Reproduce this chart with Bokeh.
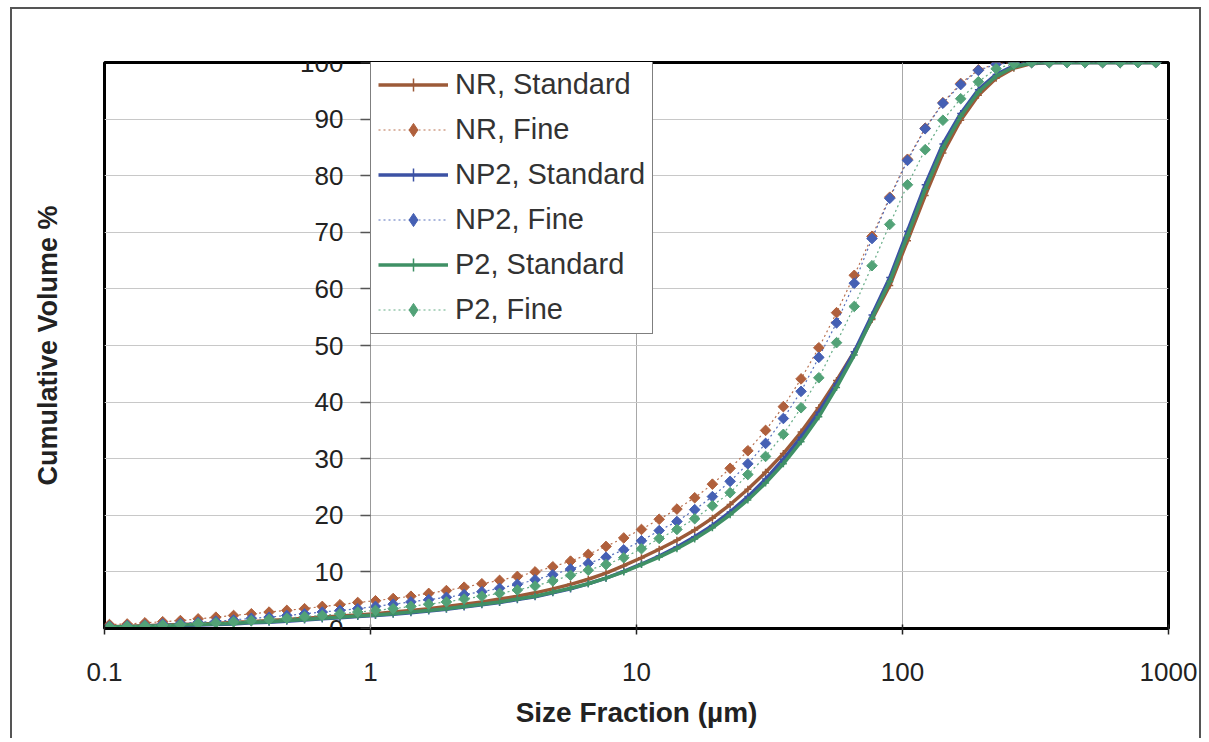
import numpy as np
from bokeh.plotting import figure
from bokeh.models import (Range1d, FixedTicker, LinearAxis, CustomJSTickFormatter,
                          Legend, LegendItem, Grid)
from bokeh.embed import file_html
from bokeh.resources import INLINE

# ---------------- data ----------------
size_um = [0.1044, 0.1217, 0.1419, 0.1655, 0.1929, 0.2249, 0.2622, 0.3057, 0.3565, 0.4156,
           0.4846, 0.565, 0.6587, 0.768, 0.8954,
           1.044, 1.217, 1.419, 1.655, 1.929, 2.249, 2.622, 3.057, 3.565, 4.156,
           4.846, 5.65, 6.587, 7.68, 8.954,
           10.44, 12.17, 14.19, 16.55, 19.29, 22.49, 26.22, 30.57, 35.65, 41.56,
           48.46, 56.5, 65.87, 76.8, 89.54,
           104.4, 121.7, 141.9, 165.5, 192.9, 224.9, 262.2, 305.7, 356.5, 415.6,
           484.6, 565.0, 658.7, 768.0, 895.4]

nr_standard = [0.3, 0.4, 0.5, 0.6, 0.7, 0.8, 0.9, 1.1, 1.2, 1.4, 1.6, 1.8, 2.0, 2.2, 2.4,
               2.6, 2.9, 3.2, 3.5, 3.9, 4.3, 4.7, 5.2, 5.7, 6.3, 7.0, 7.8, 8.7, 9.8, 11.1,
               12.5, 14.0, 15.6, 17.4, 19.5, 21.9, 24.6, 27.6, 30.9, 34.7, 39.0, 43.8, 48.9, 54.6, 60.6,
               68.5, 76.5, 84.0, 89.8, 94.2, 97.2, 99.0, 99.8, 100, 100, 100, 100, 100, 100, 100]

nr_fine = [0.7, 0.8, 1.0, 1.2, 1.4, 1.7, 2.0, 2.3, 2.6, 2.9, 3.2, 3.5, 3.9, 4.2, 4.6,
           4.9, 5.3, 5.7, 6.2, 6.7, 7.3, 7.9, 8.5, 9.2, 10.0, 10.9, 11.9, 13.1, 14.5, 16.0,
           17.5, 19.3, 21.1, 23.1, 25.5, 28.3, 31.4, 35.0, 39.2, 44.1, 49.6, 55.8, 62.4, 69.3, 76.2,
           82.9, 88.4, 92.9, 96.3, 98.7, 99.8, 100, 100, 100, 100, 100, 100, 100, 100, 100]

np2_standard = [0.2, 0.3, 0.3, 0.4, 0.5, 0.6, 0.7, 0.8, 1.0, 1.1, 1.3, 1.5, 1.7, 1.9, 2.1,
                2.3, 2.5, 2.8, 3.1, 3.4, 3.8, 4.2, 4.6, 5.1, 5.6, 6.3, 7.0, 7.9, 8.9, 10.1,
                11.4, 12.8, 14.4, 16.2, 18.2, 20.6, 23.3, 26.4, 29.9, 33.8, 38.2, 43.3, 48.9, 55.4, 62.0,
                70.2, 78.4, 85.6, 91.0, 95.2, 97.9, 99.4, 99.9, 100, 100, 100, 100, 100, 100, 100]

np2_fine = [0.4, 0.5, 0.6, 0.8, 0.9, 1.1, 1.3, 1.5, 1.8, 2.0, 2.3, 2.6, 2.9, 3.2, 3.5,
            3.9, 4.3, 4.7, 5.1, 5.5, 6.0, 6.5, 7.1, 7.8, 8.6, 9.5, 10.5, 11.5, 12.6, 13.9,
            15.5, 17.3, 18.9, 21.0, 23.3, 26.0, 29.1, 32.7, 37.1, 41.9, 47.9, 54.0, 61.0, 68.9, 76.0,
            82.7, 88.3, 92.8, 96.1, 98.6, 99.7, 100, 100, 100, 100, 100, 100, 100, 100, 100]

p2_standard = [0.3, 0.3, 0.4, 0.5, 0.6, 0.7, 0.8, 0.9, 1.1, 1.2, 1.4, 1.6, 1.8, 2.0, 2.2,
               2.4, 2.6, 2.9, 3.2, 3.5, 3.9, 4.3, 4.7, 5.2, 5.7, 6.4, 7.1, 7.9, 8.9, 10.0,
               11.3, 12.6, 14.1, 15.8, 17.8, 20.1, 22.7, 25.7, 29.1, 33.0, 37.4, 42.6, 48.3, 54.8, 61.3,
               69.4, 77.6, 84.9, 90.5, 94.8, 97.6, 99.2, 99.9, 100, 100, 100, 100, 100, 100, 100]

p2_fine = [0.3, 0.4, 0.5, 0.6, 0.7, 0.9, 1.0, 1.2, 1.4, 1.6, 1.8, 2.1, 2.3, 2.6, 2.9,
           3.2, 3.5, 3.9, 4.3, 4.7, 5.2, 5.7, 6.2, 6.8, 7.5, 8.4, 9.4, 10.3, 11.3, 12.5,
           14.1, 15.9, 17.5, 19.4, 21.7, 24.0, 27.2, 30.4, 34.3, 39.0, 44.3, 50.5, 56.9, 64.1, 71.4,
           78.4, 84.6, 89.8, 93.6, 96.6, 98.9, 99.8, 100, 100, 100, 100, 100, 100, 100, 100]

series_names = ["NR, Standard", "NR, Fine", "NP2, Standard", "NP2, Fine", "P2, Standard", "P2, Fine"]
series_values = [nr_standard, nr_fine, np2_standard, np2_fine, p2_standard, p2_fine]
series_kinds = ["standard", "fine", "standard", "fine", "standard", "fine"]
series_colors = ["#9c5a38", "#b0603c", "#3c52a4", "#4560b4", "#3f9065", "#52a277"]

x_ticks = [0.1, 1, 10, 100, 1000]
y_ticks = [0, 10, 20, 30, 40, 50, 60, 70, 80, 90, 100]

FONT = "Liberation Sans"

# ---------------- figure ----------------
p = figure(width=1191, height=731, x_axis_type="log",
           x_range=Range1d(0.1, 1000), y_range=Range1d(0, 100),
           output_backend="svg", toolbar_location=None, y_axis_location=None,
           min_border_left=92, min_border_right=35, min_border_top=53, min_border_bottom=112)
p.styles = {"margin": "7px 0px 0px 10px",
            "border-top": "2px solid #555", "border-left": "2px solid #555",
            "border-right": "2px solid #555"}

p.background_fill_color = "white"
p.border_fill_color = "white"
p.outline_line_color = "black"
p.outline_line_width = 3

# grids
p.xgrid.ticker = FixedTicker(ticks=[1, 10, 100])
p.xgrid.grid_line_color = "#a8a8a8"
p.xgrid.grid_line_width = 1
p.ygrid.visible = False
p.add_layout(Grid(dimension=1, ticker=FixedTicker(ticks=y_ticks[1:-1]),
                  grid_line_color="#c8c8c8", grid_line_width=1))

# x axis
xa = p.xaxis[0]
xa.ticker = FixedTicker(ticks=x_ticks)
xa.formatter = CustomJSTickFormatter(code="return String(tick);")
xa.axis_line_color = "black"
xa.axis_line_width = 3
xa.major_tick_in = 4
xa.major_tick_out = 6
xa.major_tick_line_color = "#222222"
xa.major_tick_line_width = 1.5
xa.minor_tick_line_color = None
xa.major_label_text_font = FONT
xa.major_label_text_font_size = "26px"
xa.major_label_text_color = "#222222"
xa.major_label_standoff = 28
xa.axis_label = "Size Fraction (µm)"
xa.axis_label_text_font = FONT
xa.axis_label_text_font_size = "28px"
xa.axis_label_text_font_style = "bold"
xa.axis_label_text_color = "#222222"
xa.axis_label_standoff = 13

# y axis crossing at x = 1
ya = LinearAxis(fixed_location=1, ticker=FixedTicker(ticks=y_ticks))
ya.axis_line_color = "#999999"
ya.axis_line_width = 1
ya.major_tick_in = 0
ya.major_tick_out = 10
ya.major_tick_line_color = "#555555"
ya.major_tick_line_width = 1.5
ya.minor_tick_line_color = None
ya.major_label_text_font = FONT
ya.major_label_text_font_size = "26px"
ya.major_label_text_color = "#222222"
ya.major_label_standoff = 17
p.add_layout(ya, "left")

# y title carried by a tick-less axis on the left edge
yt = LinearAxis(ticker=FixedTicker(ticks=[]))
yt.axis_line_color = None
yt.major_tick_line_color = None
yt.minor_tick_line_color = None
yt.major_tick_in = 0
yt.major_tick_out = 0
yt.major_label_standoff = 0
yt.axis_label = "Cumulative Volume %"
yt.axis_label_text_font = FONT
yt.axis_label_text_font_size = "27px"
yt.axis_label_text_font_style = "bold"
yt.axis_label_text_color = "#222222"
yt.axis_label_standoff = 42
p.add_layout(yt, "left")

# series
items = []
for name, ys, kind, color in zip(series_names, series_values, series_kinds, series_colors):
    if kind == "standard":
        r1 = p.line(size_um, ys, line_color=color, line_width=3.5)
        r2 = p.scatter(size_um, ys, marker="cross", size=7, line_color=color, line_width=1.5)
        items.append(LegendItem(label=name, renderers=[r1, r2]))
    else:
        r1 = p.line(size_um, ys, line_color=color, line_width=1.2, line_dash="2 3", line_alpha=0.9)
        r2 = p.scatter(size_um, ys, marker="square", angle=np.pi / 4, size=7.5,
                       fill_color=color, line_color=color)
        # legend-only diamond (hidden on the plot)
        lg = p.scatter(size_um, ys, marker="diamond", size=13, fill_color=color,
                       line_color=color, visible=False)
        items.append(LegendItem(label=name, renderers=[r1, lg]))

legend = Legend(items=items, location=(266, 294))
legend.label_text_font = FONT
legend.label_text_font_size = "29px"
legend.label_text_color = "#333333"
legend.glyph_width = 70
legend.glyph_height = 33
legend.label_height = 33
legend.label_standoff = 7
legend.spacing = 12
legend.padding = 7
legend.margin = 0
legend.border_line_color = "black"
legend.border_line_width = 1.5
legend.background_fill_color = "white"
legend.background_fill_alpha = 1.0
legend.inactive_fill_alpha = 0.0
p.add_layout(legend, "center")

open("out.html", "w").write(file_html(p, INLINE))
